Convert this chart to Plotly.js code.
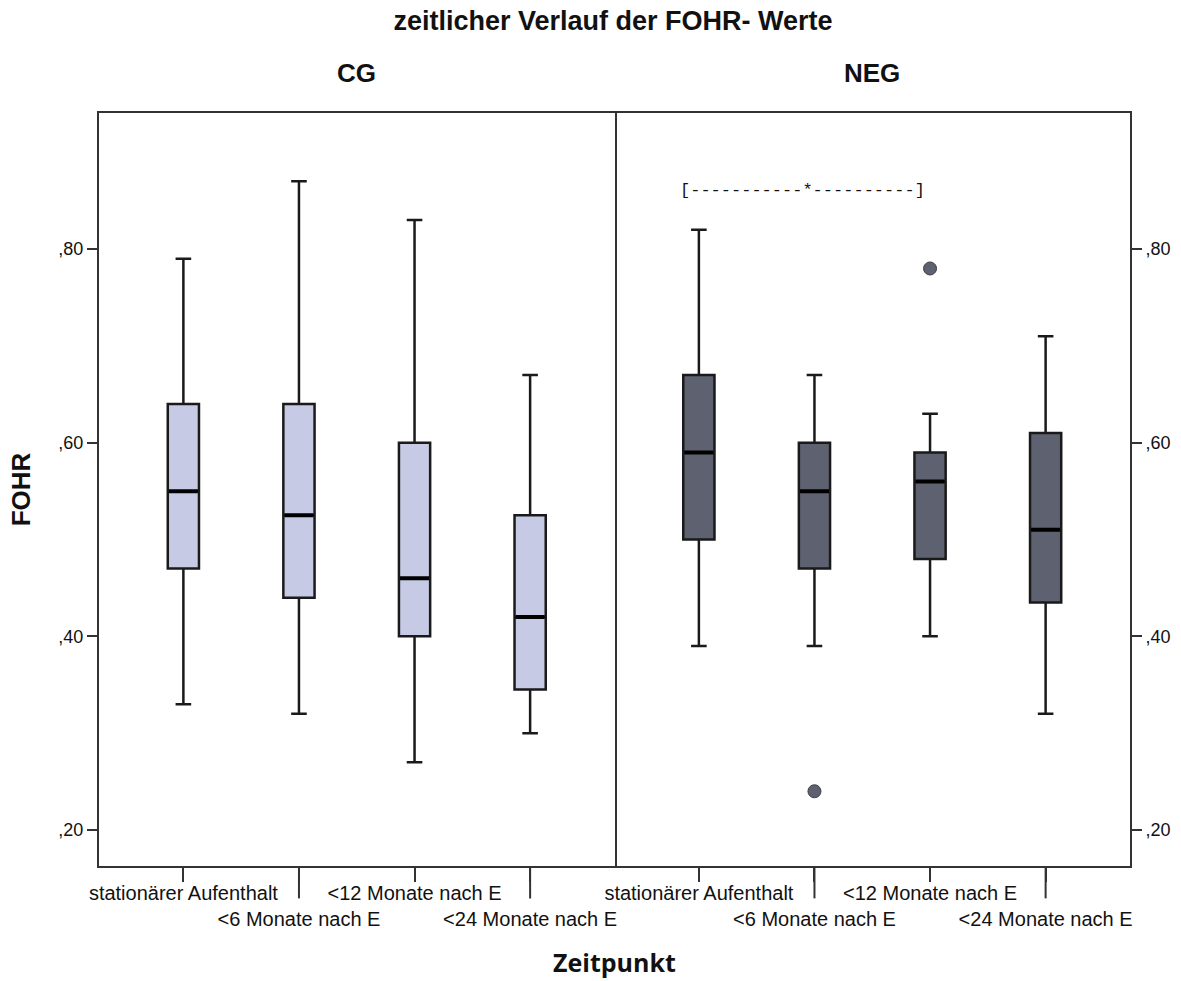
<!DOCTYPE html>
<html>
<head>
<meta charset="utf-8">
<script src="https://cdn.plot.ly/plotly-3.0.1.min.js"></script>
<style>html,body{margin:0;padding:0;background:#fff;}#chart{width:1181px;height:981px;}</style>
</head>
<body>
<div id="chart"></div>
<script>
// Categories (time points)
const categories = ["stationärer Aufenthalt", "<6 Monate nach E", "<12 Monate nach E", "<24 Monate nach E"];
const tickLabels = ["stationärer Aufenthalt", "<br>&lt;6 Monate nach E", "&lt;12 Monate nach E", "<br>&lt;24 Monate nach E"];
const groups = ["CG", "NEG"];

// CG box statistics
const cgLower  = [0.33, 0.32, 0.27, 0.30];
const cgQ1     = [0.47, 0.44, 0.40, 0.345];
const cgMedian = [0.55, 0.525, 0.46, 0.42];
const cgQ3     = [0.64, 0.64, 0.60, 0.525];
const cgUpper  = [0.79, 0.87, 0.83, 0.67];

// NEG box statistics
const negLower  = [0.39, 0.39, 0.40, 0.32];
const negQ1     = [0.50, 0.47, 0.48, 0.435];
const negMedian = [0.59, 0.55, 0.56, 0.51];
const negQ3     = [0.67, 0.60, 0.59, 0.61];
const negUpper  = [0.82, 0.67, 0.63, 0.71];

// NEG outliers
const negOutlierX = ["<6 Monate nach E", "<12 Monate nach E"];
const negOutlierY = [0.24, 0.78];

// y-axis ticks
const yTickVals = [0.2, 0.4, 0.6, 0.8];
const yTickText = [",20", ",40", ",60", ",80"];

const lineCol = "#1a1a1a";
const frameCol = "#333";
const boxW = 0.27;

function boxTrace(xa, ya, low, q1, med, q3, up, fill) {
  return {
    type: "box", x: categories, xaxis: xa, yaxis: ya,
    lowerfence: low, q1: q1, median: med, q3: q3, upperfence: up,
    fillcolor: fill, line: {color: lineCol, width: 2.5},
    whiskerwidth: 0.5, width: boxW, boxpoints: false, hoverinfo: "skip"
  };
}
// thick median line drawn as a degenerate box at the median
function medianTrace(xa, ya, med) {
  return {
    type: "box", x: categories, xaxis: xa, yaxis: ya,
    lowerfence: med, q1: med, median: med, q3: med, upperfence: med,
    fillcolor: "rgba(0,0,0,0)", line: {color: "#000", width: 4},
    whiskerwidth: 0, width: boxW * 0.93, boxpoints: false, hoverinfo: "skip"
  };
}

const data = [
  boxTrace("x", "y", cgLower, cgQ1, cgMedian, cgQ3, cgUpper, "#c6cae4"),
  medianTrace("x", "y", cgMedian),
  boxTrace("x2", "y2", negLower, negQ1, negMedian, negQ3, negUpper, "#5e6270"),
  medianTrace("x2", "y2", negMedian),
  {
    type: "scatter", mode: "markers", x: negOutlierX, y: negOutlierY, xaxis: "x2", yaxis: "y2",
    marker: {size: 13, color: "#5e6270", line: {color: "#3a3c46", width: 1}}, hoverinfo: "skip"
  }
];

const yRange = [0.1628, 0.9406];
const xRange = [-0.73, 3.73];
const tickFont = {family: "Liberation Sans, Arial, sans-serif", size: 20, color: "#111"};

function xAxis(anchor, domain) {
  return {
    domain: domain, anchor: anchor, type: "category", range: xRange,
    categoryorder: "array", categoryarray: categories,
    tickvals: categories, ticktext: tickLabels, tickangle: 0,
    ticks: "outside", ticklen: 14, tickwidth: 2, tickcolor: frameCol,
    ticklabelstandoff: -6,
    showline: true, mirror: true, linecolor: frameCol, linewidth: 2,
    showgrid: false, zeroline: false, tickfont: tickFont
  };
}
function yAxis(anchor, side, mirror) {
  return {
    anchor: anchor, side: side, range: yRange,
    tickvals: yTickVals, ticktext: yTickText,
    ticks: "outside", ticklen: 10, tickwidth: 2, tickcolor: frameCol,
    showline: true, mirror: mirror, linecolor: frameCol, linewidth: 2,
    showgrid: false, zeroline: false,
    tickfont: {family: "Liberation Sans, Arial, sans-serif", size: 18, color: "#111"}
  };
}

const longTickLen = -0.043;
const shapes = [];
[["x", 1], ["x", 3], ["x2", 1], ["x2", 3]].forEach(function (p) {
  shapes.push({type: "line", xref: p[0], yref: "paper", x0: categories[p[1]], x1: categories[p[1]],
    y0: 0, y1: longTickLen, line: {color: frameCol, width: 2}});
});

const layout = {
  width: 1181, height: 981,
  margin: {l: 99, r: 51, t: 113, b: 115},
  paper_bgcolor: "#fff", plot_bgcolor: "#fff",
  showlegend: false,
  boxmode: "overlay",
  title: {text: "zeitlicher Verlauf der FOHR- Werte", x: 0.519, xanchor: "center", y: 0.979, yanchor: "middle",
    font: {family: "Liberation Sans, Arial, sans-serif", size: 27, color: "#111", weight: "bold"}},
  xaxis: xAxis("y", [0, 0.5]),
  xaxis2: xAxis("y2", [0.5, 1]),
  yaxis: Object.assign(yAxis("x", "left", true), {
    title: {text: "FOHR", standoff: 20, font: {family: "Liberation Sans, Arial, sans-serif", size: 26, color: "#111", weight: "bold"}}
  }),
  yaxis2: yAxis("x2", "right", false),
  shapes: shapes,
  annotations: [
    {text: "<b>" + groups[0] + "</b>", xref: "paper", yref: "paper", x: 0.25, y: 1.053, xanchor: "center", yanchor: "middle",
      showarrow: false, font: {family: "Liberation Sans, Arial, sans-serif", size: 26, color: "#111"}},
    {text: "<b>" + groups[1] + "</b>", xref: "paper", yref: "paper", x: 0.75, y: 1.053, xanchor: "center", yanchor: "middle",
      showarrow: false, font: {family: "Liberation Sans, Arial, sans-serif", size: 26, color: "#111"}},
    {text: "[-----------*----------]", xref: "x2", yref: "y2", x: 0.9, y: 0.861, xanchor: "center", yanchor: "middle",
      showarrow: false, font: {family: "Liberation Mono, DejaVu Sans Mono, monospace", size: 17, color: "#111"}},
    {text: "Zeitpunkt", xref: "paper", yref: "paper", x: 0.5, y: -0.1275, xanchor: "center", yanchor: "middle",
      showarrow: false, font: {family: "Open Sans, sans-serif", size: 25, color: "#111", weight: "bold"}}
  ]
};

Plotly.newPlot("chart", data, layout, {displayModeBar: false, staticPlot: true});
</script>
</body>
</html>
